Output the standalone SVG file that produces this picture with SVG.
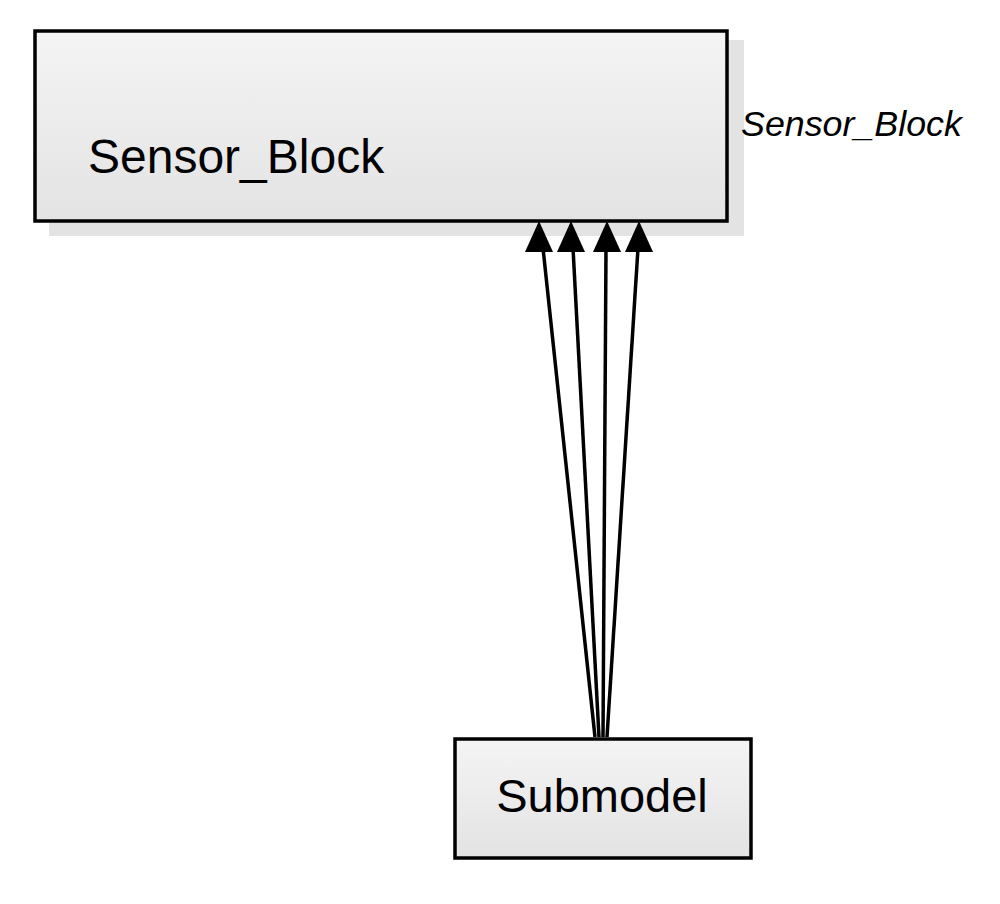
<svg xmlns="http://www.w3.org/2000/svg" width="1000" height="904" viewBox="0 0 1000 904">
<defs>
<linearGradient id="g" x1="0" y1="0" x2="0" y2="1">
<stop offset="0" stop-color="#f4f4f4"/>
<stop offset="1" stop-color="#e3e3e3"/>
</linearGradient>
<style>
.box{fill:url(#g);stroke:#000;stroke-width:3.5}
.shadow{fill:#e3e3e3}
.lbl{font-family:"Liberation Sans",Arial,sans-serif;fill:#000}
.edge{stroke:#000;stroke-width:3.5;fill:none}
.head{fill:#000}
</style>
</defs>
<rect width="1000" height="904" fill="#fff"/>
<g id="sensor_block">
<rect class="shadow" x="49" y="40" width="695" height="196"/>
<rect class="box" x="35" y="31" width="692" height="190"/>
<text class="lbl" x="88" y="173" font-size="48">Sensor_Block</text>
<text class="lbl" x="741" y="136" font-size="35.8" font-style="italic">Sensor_Block</text>
</g>
<g id="submodel">
<rect class="box" x="455" y="739" width="296" height="119"/>
<text class="lbl" x="602" y="812" font-size="47" text-anchor="middle">Submodel</text>
</g>
<g id="connectors">
<line class="edge" x1="595" y1="737" x2="543" y2="248"/>
<line class="edge" x1="599" y1="737" x2="573" y2="248"/>
<line class="edge" x1="603" y1="737" x2="606" y2="248"/>
<line class="edge" x1="607" y1="737" x2="638" y2="248"/>
<polygon class="head" points="539,221 525,252 553,252"/>
<polygon class="head" points="571,221 557,252 585,252"/>
<polygon class="head" points="607,221 593,252 621,252"/>
<polygon class="head" points="639,221 625,252 653,252"/>
</g>
</svg>
